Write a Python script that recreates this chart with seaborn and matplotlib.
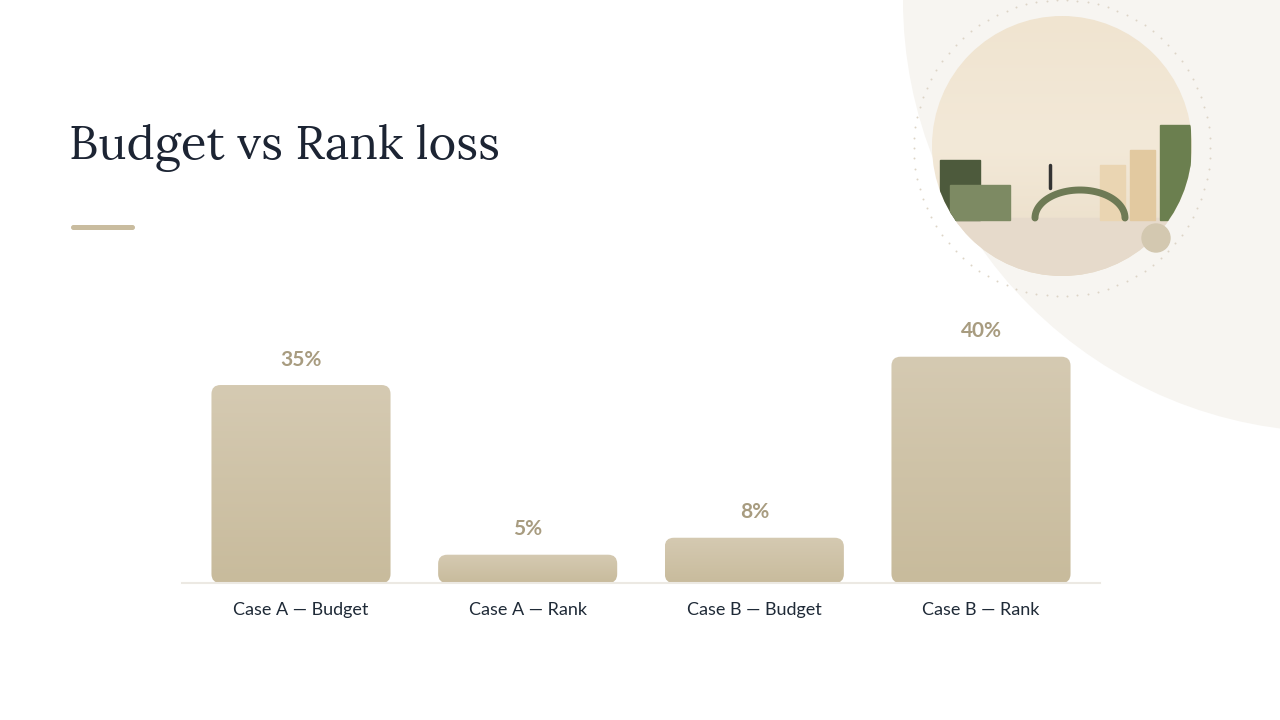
import matplotlib
matplotlib.use("Agg")
import matplotlib.pyplot as plt
import seaborn as sns
import numpy as np
import pandas as pd
from matplotlib.patches import FancyBboxPatch, Circle, Rectangle
import matplotlib.colors as mcolors

categories = ["Case A — Budget", "Case A — Rank", "Case B — Budget", "Case B — Rank"]
values = [35, 5, 8, 40]
labels = ["35%", "5%", "8%", "40%"]
title = "Budget vs Rank loss"

sns.set_theme(style="white")
plt.rcParams['font.family'] = ['Lato', 'DejaVu Sans']

fig = plt.figure(figsize=(12.8, 7.2), dpi=100)
fig.patch.set_facecolor("white")

# background decorations (figure pixel coords via overlay axes)
bg = fig.add_axes([0, 0, 1, 1], zorder=0)
bg.set_xlim(0, 1280); bg.set_ylim(720, 0); bg.axis("off")
bg.add_patch(Circle((1335, 0), 432, color="#f7f5f1", lw=0))
# dotted ring
t = np.linspace(0, 2*np.pi, 90, endpoint=False)
bg.scatter(1062 + 148*np.cos(t), 148 + 148*np.sin(t), s=2, color="#ddd5c6", lw=0)
# image circle with gradient
grad = np.linspace(0, 1, 256)[:, None]
cm = mcolors.LinearSegmentedColormap.from_list("g", ["#f0e4d0", "#f3e9d8", "#e9dcc6"])
im = bg.imshow(grad, extent=(932, 1192, 276, 16), cmap=cm, aspect="auto", zorder=1)
clip = Circle((1062, 146), 130, transform=bg.transData)
im.set_clip_path(clip)
# simple landscape inside
water = Rectangle((932, 218), 260, 60, color="#e6dacb", zorder=2); water.set_clip_path(clip); bg.add_patch(water)
for (x, y, w, h, c) in [(940, 160, 40, 60, "#4d5a3c"), (1160, 125, 30, 95, "#6b7f4f"),
                        (1130, 150, 25, 70, "#e2c9a0"), (1100, 165, 25, 55, "#ead5b2"),
                        (950, 185, 60, 35, "#7d8a63")]:
    r = Rectangle((x, y), w, h, color=c, zorder=2); r.set_clip_path(clip); bg.add_patch(r)
tt = np.linspace(0, np.pi, 50)
bx = 1080 - 45*np.cos(tt); by = 218 - 28*np.sin(tt)
ln, = bg.plot(bx, by, color="#6e7a55", lw=5, zorder=3); ln.set_clip_path(clip)
bg.plot([1050, 1050], [165, 188], color="#333", lw=2.5, zorder=4)
bg.add_patch(Circle((1156, 238), 14, color="#d3c8b0", zorder=5))

# title and accent
fig.text(69/1280, 1-148/720, title, fontsize=34, family=["Lora", "DejaVu Serif"],
         color="#1c2433", va="center", ha="left")
bg.add_patch(FancyBboxPatch((71, 225), 64, 5, boxstyle="round,pad=0,rounding_size=2.5",
                            color="#c9bc9f", lw=0))

# chart axes
ax = fig.add_axes([182/1280, 1-583/720, (1100-182)/1280, (583-300)/720], zorder=2)
ax.patch.set_alpha(0)
df = pd.DataFrame({"cat": categories, "val": values})
sns.barplot(data=df, x="cat", y="val", ax=ax, width=0.79, color="#cfc3a8")
ax.set_xlim(-0.525, 3.525)
ax.set_ylim(0, 283/5.657)
ppx = 5.657
cmap_b = mcolors.LinearSegmentedColormap.from_list("b", ["#c8bb9c", "#d5cab2"])
for p, lab in zip(list(ax.patches), labels):
    x, w, h = p.get_x(), p.get_width(), p.get_height()
    p.set_visible(False)
    rr = FancyBboxPatch((x, 0), w, h, boxstyle="round,pad=0,rounding_size=0.04",
                        mutation_aspect=(1/ppx)/(0.04/ (0.04*226/ppx*ppx/226)) if False else 226/ppx,
                        facecolor="none", edgecolor="none")
    ax.add_patch(rr)
    gi = ax.imshow(np.linspace(0, 1, 100)[:, None], extent=(x, x+w, 0, h), cmap=cmap_b,
                   aspect="auto", origin="lower", zorder=1)
    gi.set_clip_path(rr)
    ax.text(x + w/2, h + 4.5, lab, ha="center", va="center", fontsize=15,
            fontweight="bold", color="#a89c80")
ax.set_aspect("auto")
ax.set_xlim(-0.525, 3.525); ax.set_ylim(0, 283/5.657)
ax.set_xlabel(""); ax.set_ylabel("")
ax.set_yticks([])
ax.tick_params(axis="x", length=0, pad=14, labelsize=13, labelcolor="#1f2a37")
for s in ["top", "right", "left"]:
    ax.spines[s].set_visible(False)
ax.spines["bottom"].set_color("#ece9e3")
ax.spines["bottom"].set_linewidth(1.5)

fig.savefig("out.png", dpi=100, facecolor="white")
